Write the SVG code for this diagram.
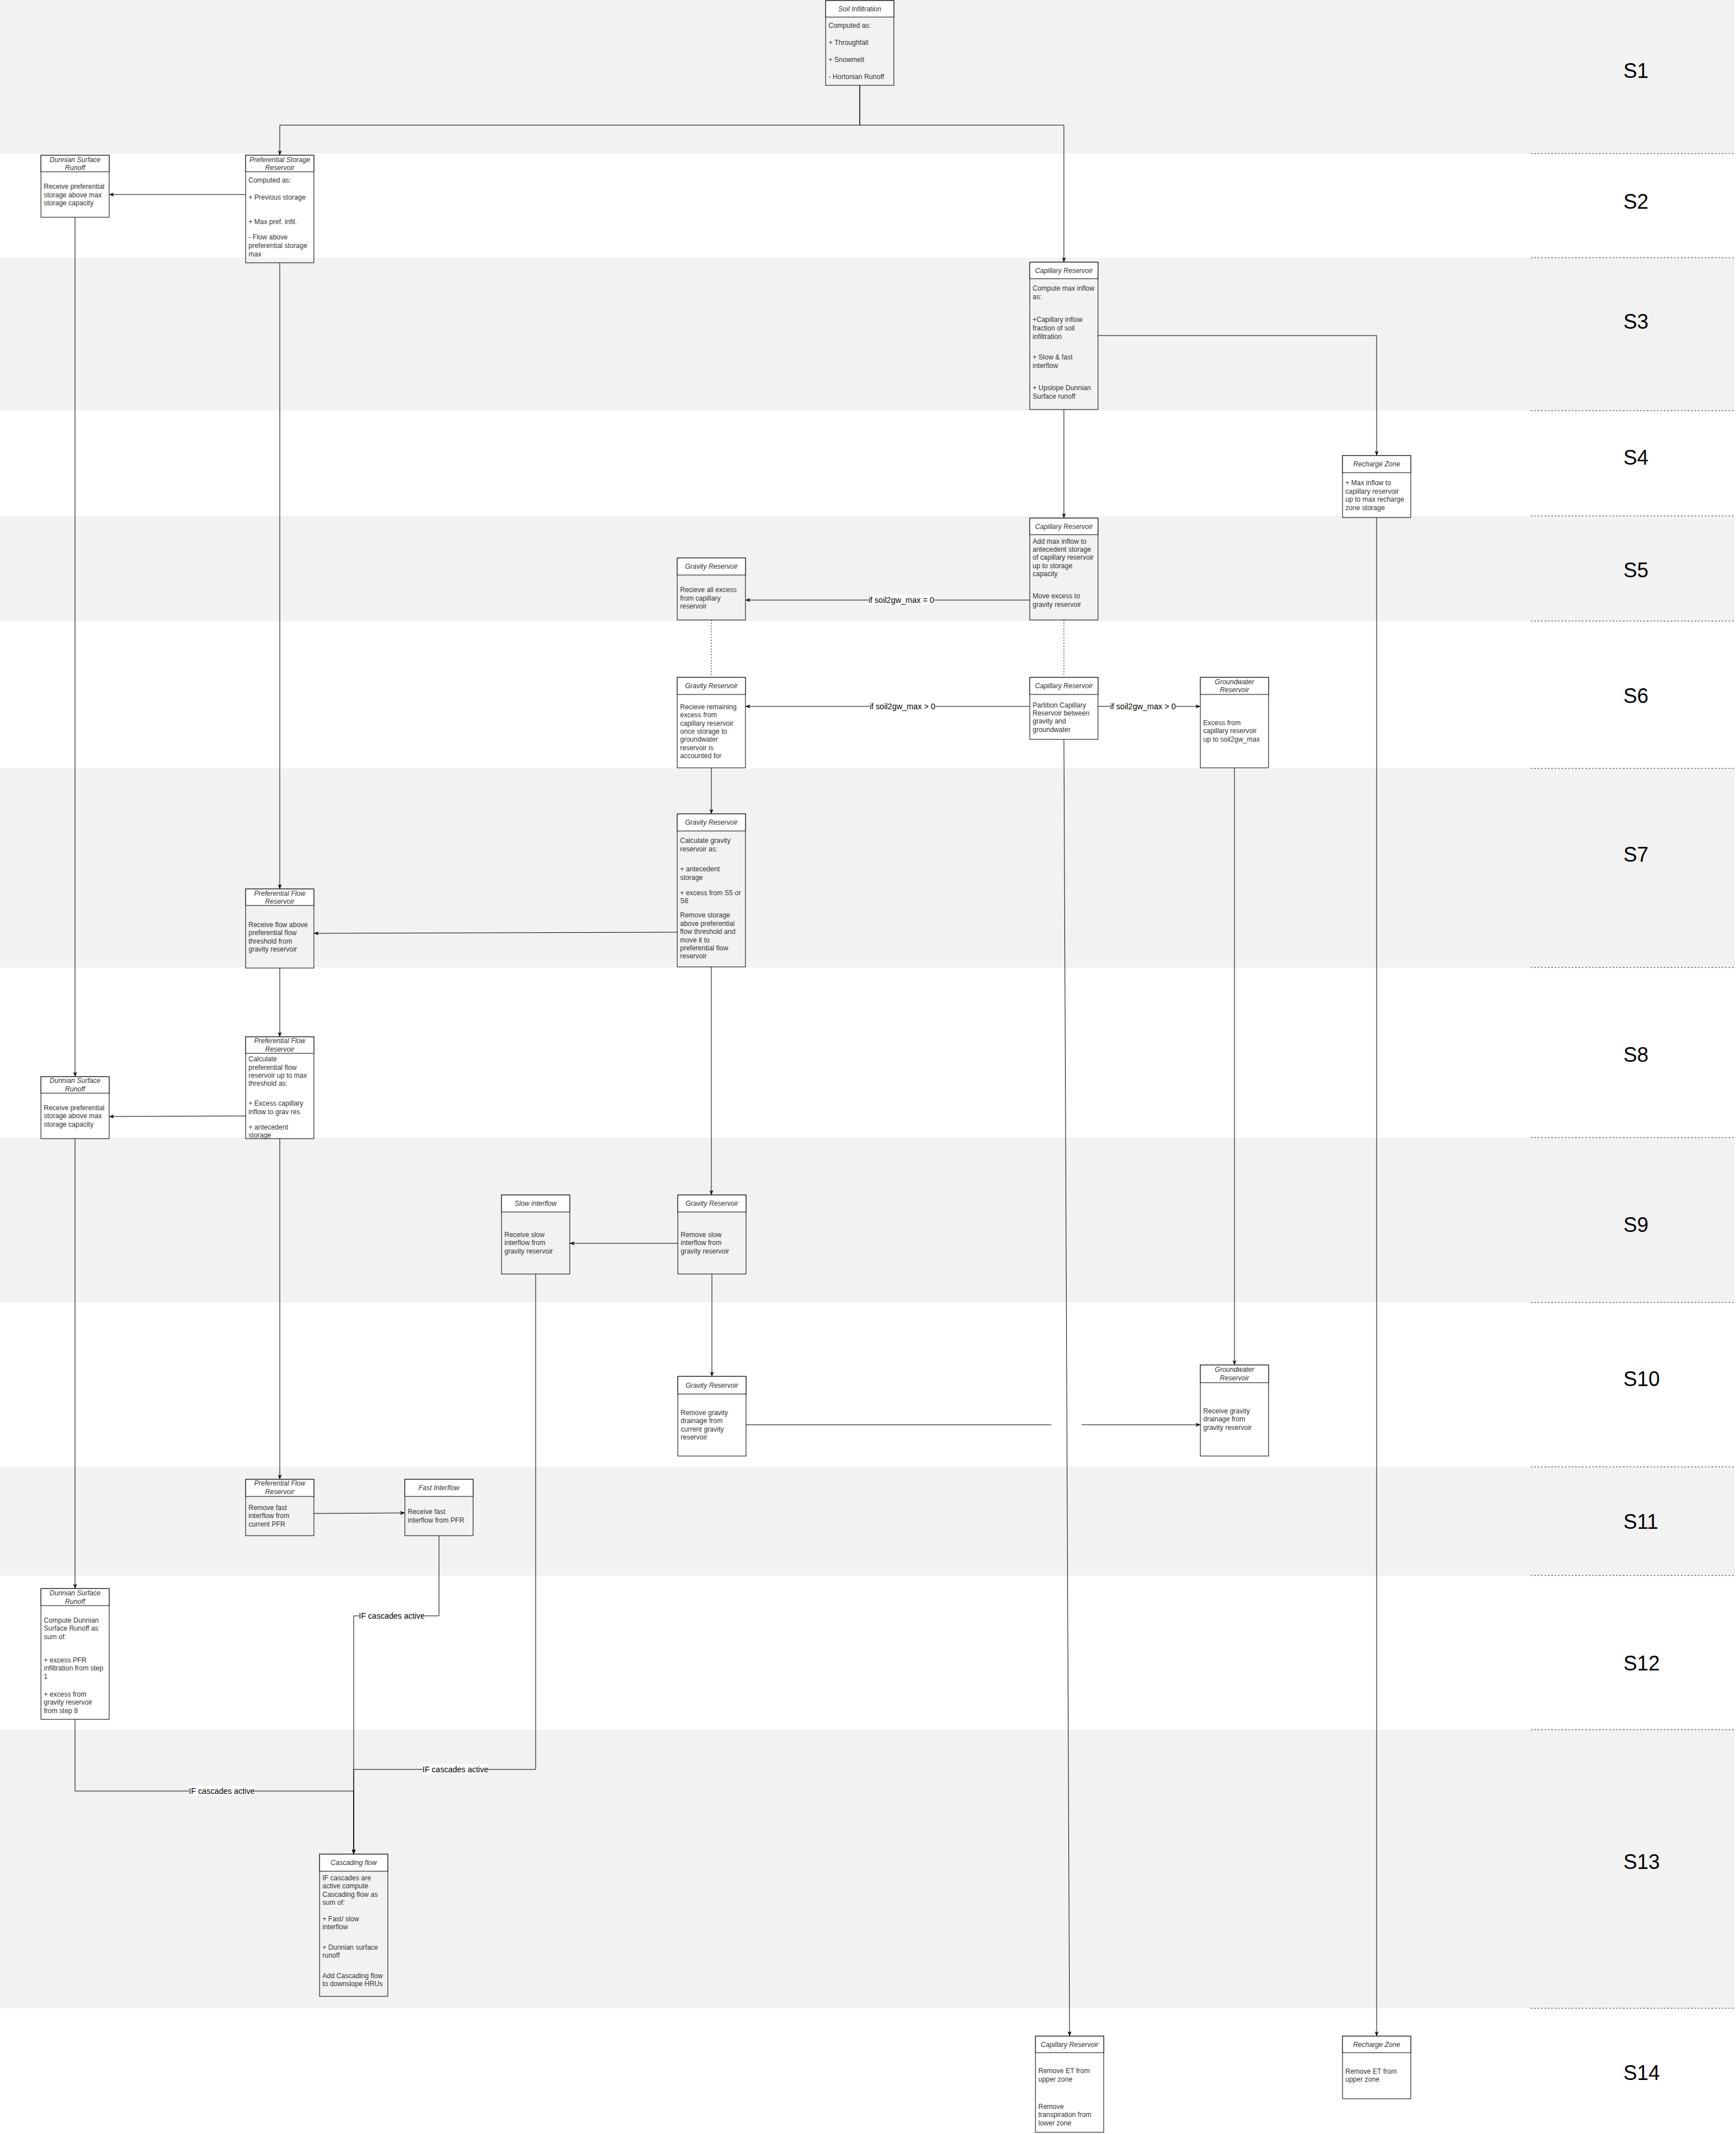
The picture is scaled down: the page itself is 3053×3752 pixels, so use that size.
<svg xmlns="http://www.w3.org/2000/svg" width="3053" height="3752" viewBox="0 0 3053 3752">
<style>
.bg{fill:#ffffff}
.lane{fill:#f2f2f2}
.sep{stroke:#333;stroke-dasharray:3 3;fill:none}
.box{fill:none;stroke:#000;stroke-width:1}
.hdr{fill:#fff;stroke:#000;stroke-width:1}
.ht{font-family:"Liberation Sans",Arial,sans-serif;font-size:12px;font-style:italic;fill:#333;text-anchor:middle}
.bt{font-family:"Liberation Sans",Arial,sans-serif;font-size:12px;fill:#333}
.edge{fill:none;stroke:#000;stroke-width:1}
.dot{fill:none;stroke:#000;stroke-width:1;stroke-dasharray:2 3}
.lb{fill:#fff}
.lt{font-family:"Liberation Sans",Arial,sans-serif;font-size:14px;fill:#000;text-anchor:middle}
.st{font-family:"Liberation Sans",Arial,sans-serif;font-size:36px;fill:#000}
</style>
<defs>
<marker id="arr" viewBox="0 0 10 8" refX="10" refY="4" markerWidth="9" markerHeight="7" orient="auto" markerUnits="userSpaceOnUse">
<path d="M0,0 L10,4 L0,8 L3,4 z" fill="#000"/>
</marker>
</defs>
<rect class="bg" x="0" y="0" width="3053" height="3752"/>
<g id="lanes">
<rect class="lane" x="0" y="0" width="3051" height="270"/>
<rect class="lane" x="0" y="453" width="3051" height="269"/>
<rect class="lane" x="0" y="907" width="3051" height="185"/>
<rect class="lane" x="0" y="1351" width="3051" height="350"/>
<rect class="lane" x="0" y="2000" width="3051" height="290"/>
<rect class="lane" x="0" y="2579" width="3051" height="191"/>
<rect class="lane" x="0" y="3041" width="3051" height="490"/>
<path class="sep" d="M2692 270H3050M2692 453H3050M2692 722H3050M2692 907H3050M2692 1092H3050M2692 1351H3050M2692 1701H3050M2692 2000H3050M2692 2290H3050M2692 2579H3050M2692 2770H3050M2692 3041H3050M2692 3531H3050"/>
<text class="st" x="2855" y="137">S1</text>
<text class="st" x="2855" y="367">S2</text>
<text class="st" x="2855" y="578">S3</text>
<text class="st" x="2855" y="817">S4</text>
<text class="st" x="2855" y="1015">S5</text>
<text class="st" x="2855" y="1236">S6</text>
<text class="st" x="2855" y="1515">S7</text>
<text class="st" x="2855" y="1867">S8</text>
<text class="st" x="2855" y="2166">S9</text>
<text class="st" x="2855" y="2437">S10</text>
<text class="st" x="2855" y="2688">S11</text>
<text class="st" x="2855" y="2937">S12</text>
<text class="st" x="2855" y="3286">S13</text>
<text class="st" x="2855" y="3657">S14</text>
</g>
<g id="connectors">
<path class="edge" d="M1512 150V220H492V273" marker-end="url(#arr)"/>
<path class="edge" d="M1512 150V220H1871V461" marker-end="url(#arr)"/>
<path class="edge" d="M432 342H192" marker-end="url(#arr)"/>
<path class="edge" d="M492 462V1563" marker-end="url(#arr)"/>
<path class="edge" d="M132 382V1893" marker-end="url(#arr)"/>
<path class="edge" d="M1871 720V911" marker-end="url(#arr)"/>
<path class="edge" d="M1931 590H2421V801" marker-end="url(#arr)"/>
<path class="edge" d="M1811 1055H1311" marker-end="url(#arr)"/>
<path class="dot" d="M1251 1090V1191"/>
<path class="dot" d="M1871 1090V1191"/>
<path class="edge" d="M1811 1242H1311" marker-end="url(#arr)"/>
<path class="edge" d="M1931 1242H2111" marker-end="url(#arr)"/>
<path class="edge" d="M1251 1350V1431" marker-end="url(#arr)"/>
<path class="edge" d="M1191 1639L552 1641" marker-end="url(#arr)"/>
<path class="edge" d="M492 1702V1823" marker-end="url(#arr)"/>
<path class="edge" d="M432 1962L192 1963" marker-end="url(#arr)"/>
<path class="edge" d="M1251 1700V2101" marker-end="url(#arr)"/>
<path class="edge" d="M1192 2186H1002" marker-end="url(#arr)"/>
<path class="edge" d="M1252 2240V2420" marker-end="url(#arr)"/>
<path class="edge" d="M2171 1350V2400" marker-end="url(#arr)"/>
<path class="edge" d="M1312 2505H1849M1902 2505H2111" marker-end="url(#arr)"/>
<path class="edge" d="M1871 1300L1881 3580" marker-end="url(#arr)"/>
<path class="edge" d="M2421 910V3580" marker-end="url(#arr)"/>
<path class="edge" d="M492 2002V2601" marker-end="url(#arr)"/>
<path class="edge" d="M132 2002V2793" marker-end="url(#arr)"/>
<path class="edge" d="M552 2661L712 2660" marker-end="url(#arr)"/>
<path class="edge" d="M772 2700V2841H622V3260" marker-end="url(#arr)"/>
<path class="edge" d="M942 2240V3111H622V3260" marker-end="url(#arr)"/>
<path class="edge" d="M132 3023V3149H622V3260" marker-end="url(#arr)"/>
<rect class="lb" x="1527" y="1046" width="116" height="17"/>
<text class="lt" x="1585" y="1060">if soil2gw_max = 0</text>
<rect class="lb" x="1529" y="1233" width="116" height="17"/>
<text class="lt" x="1587" y="1247">if soil2gw_max &gt; 0</text>
<rect class="lb" x="1952" y="1233" width="116" height="17"/>
<text class="lt" x="2010" y="1247">if soil2gw_max &gt; 0</text>
<rect class="lb" x="631" y="2832" width="116" height="17"/>
<text class="lt" x="689" y="2846">IF cascades active</text>
<rect class="lb" x="743" y="3102" width="116" height="17"/>
<text class="lt" x="801" y="3116">IF cascades active</text>
<rect class="lb" x="332" y="3140" width="116" height="17"/>
<text class="lt" x="390" y="3154">IF cascades active</text>
</g>
<g id="soil_infiltration">
<rect class="box" x="1452" y="1" width="120" height="149"/>
<rect class="hdr" x="1452" y="1" width="120" height="29"/>
<text class="ht" x="1512" y="20">Soil Infiltration</text>
<text class="bt"><tspan x="1457" y="49">Computed as:</tspan><tspan x="1457" y="79">+ Throughfall</tspan><tspan x="1457" y="109">+ Snowmelt</tspan><tspan x="1457" y="139">- Hortonian Runoff</tspan></text>
</g>
<g id="dunnian_s2">
<rect class="box" x="72" y="273" width="120" height="109"/>
<rect class="hdr" x="72" y="273" width="120" height="29"/>
<text class="ht"><tspan x="132" y="284.5">Dunnian Surface</tspan><tspan x="132" y="299">Runoff</tspan></text>
<text class="bt"><tspan x="77" y="332">Receive preferential</tspan><tspan x="77" y="346.5">storage above max</tspan><tspan x="77" y="361">storage capacity</tspan></text>
</g>
<g id="pref_storage_s2">
<rect class="box" x="432" y="273" width="120" height="189"/>
<rect class="hdr" x="432" y="273" width="120" height="29"/>
<text class="ht"><tspan x="492" y="284.5">Preferential Storage</tspan><tspan x="492" y="299">Reservoir</tspan></text>
<text class="bt"><tspan x="437" y="321">Computed as:</tspan><tspan x="437" y="351">+ Previous storage</tspan><tspan x="437" y="394">+ Max pref. infil.</tspan><tspan x="437" y="421">- Flow above</tspan><tspan x="437" y="436">preferential storage</tspan><tspan x="437" y="451">max</tspan></text>
</g>
<g id="capillary_s3">
<rect class="box" x="1811" y="461" width="120" height="259"/>
<rect class="hdr" x="1811" y="461" width="120" height="29"/>
<text class="ht" x="1871" y="479.5">Capillary Reservoir</text>
<text class="bt"><tspan x="1816" y="510.7">Compute max inflow</tspan><tspan x="1816" y="525.7">as:</tspan><tspan x="1816" y="565.7">+Capillary inflow</tspan><tspan x="1816" y="580.7">fraction of soil</tspan><tspan x="1816" y="595.7">infiltration</tspan><tspan x="1816" y="632.3">+ Slow &amp; fast</tspan><tspan x="1816" y="647.3">interflow</tspan><tspan x="1816" y="685.7">+ Upslope Dunnian</tspan><tspan x="1816" y="700.7">Surface runoff</tspan></text>
</g>
<g id="recharge_s4">
<rect class="box" x="2361" y="801" width="120" height="109"/>
<rect class="hdr" x="2361" y="801" width="120" height="30"/>
<text class="ht" x="2421" y="820">Recharge Zone</text>
<text class="bt"><tspan x="2366" y="853">+ Max inflow to</tspan><tspan x="2366" y="867.5">capillary reservoir</tspan><tspan x="2366" y="882">up to max recharge</tspan><tspan x="2366" y="896.5">zone storage</tspan></text>
</g>
<g id="gravity_s5">
<rect class="box" x="1191" y="981" width="120" height="109"/>
<rect class="hdr" x="1191" y="981" width="120" height="30"/>
<text class="ht" x="1251" y="1000">Gravity Reservoir</text>
<text class="bt"><tspan x="1196" y="1041">Recieve all excess</tspan><tspan x="1196" y="1055.5">from capillary</tspan><tspan x="1196" y="1070">reservoir</tspan></text>
</g>
<g id="capillary_s5">
<rect class="box" x="1811" y="911" width="120" height="179"/>
<rect class="hdr" x="1811" y="911" width="120" height="29"/>
<text class="ht" x="1871" y="929.5">Capillary Reservoir</text>
<text class="bt"><tspan x="1816" y="955.7">Add max inflow to</tspan><tspan x="1816" y="969.7">antecedent storage</tspan><tspan x="1816" y="984.3">of capillary reservoir</tspan><tspan x="1816" y="999">up to storage</tspan><tspan x="1816" y="1013">capacity</tspan><tspan x="1816" y="1051.7">Move excess to</tspan><tspan x="1816" y="1067.3">gravity reservoir</tspan></text>
</g>
<g id="gravity_s6">
<rect class="box" x="1191" y="1191" width="120" height="159"/>
<rect class="hdr" x="1191" y="1191" width="120" height="30"/>
<text class="ht" x="1251" y="1210">Gravity Reservoir</text>
<text class="bt"><tspan x="1196" y="1246.7">Recieve remaining</tspan><tspan x="1196" y="1261.3">excess from</tspan><tspan x="1196" y="1275.7">capillary reservoir</tspan><tspan x="1196" y="1290">once storage to</tspan><tspan x="1196" y="1304.4">groundwater</tspan><tspan x="1196" y="1318.8">reservoir is</tspan><tspan x="1196" y="1333.3">accounted for</tspan></text>
</g>
<g id="capillary_s6">
<rect class="box" x="1811" y="1191" width="120" height="109"/>
<rect class="hdr" x="1811" y="1191" width="120" height="30"/>
<text class="ht" x="1871" y="1210">Capillary Reservoir</text>
<text class="bt"><tspan x="1816" y="1243.5">Partition Capillary</tspan><tspan x="1816" y="1258">Reservoir between</tspan><tspan x="1816" y="1272.4">gravity and</tspan><tspan x="1816" y="1286.8">groundwater</tspan></text>
</g>
<g id="groundwater_s6">
<rect class="box" x="2111" y="1191" width="120" height="159"/>
<rect class="hdr" x="2111" y="1191" width="120" height="30"/>
<text class="ht"><tspan x="2171" y="1202.8">Groundwater</tspan><tspan x="2171" y="1217.2">Reservoir</tspan></text>
<text class="bt"><tspan x="2116" y="1274.7">Excess from</tspan><tspan x="2116" y="1289.2">capillary reservoir</tspan><tspan x="2116" y="1303.6">up to soil2gw_max</tspan></text>
</g>
<g id="gravity_s7">
<rect class="box" x="1191" y="1431" width="120" height="269"/>
<rect class="hdr" x="1191" y="1431" width="120" height="30"/>
<text class="ht" x="1251" y="1450">Gravity Reservoir</text>
<text class="bt"><tspan x="1196" y="1482.3">Calculate gravity</tspan><tspan x="1196" y="1496.7">reservoir as:</tspan><tspan x="1196" y="1532.3">+ antecedent</tspan><tspan x="1196" y="1547.3">storage</tspan><tspan x="1196" y="1574">+ excess from S5 or</tspan><tspan x="1196" y="1588">S6</tspan><tspan x="1196" y="1613.3">Remove storage</tspan><tspan x="1196" y="1627.5">above preferential</tspan><tspan x="1196" y="1642">flow threshold and</tspan><tspan x="1196" y="1656.5">move it to</tspan><tspan x="1196" y="1670.8">preferential flow</tspan><tspan x="1196" y="1685">reservoir</tspan></text>
</g>
<g id="pref_flow_s7">
<rect class="box" x="432" y="1563" width="120" height="139"/>
<rect class="hdr" x="432" y="1563" width="120" height="29"/>
<text class="ht"><tspan x="492" y="1574.5">Preferential Flow</tspan><tspan x="492" y="1589">Reservoir</tspan></text>
<text class="bt"><tspan x="437" y="1630">Receive flow above</tspan><tspan x="437" y="1644.4">preferential flow</tspan><tspan x="437" y="1658.8">threshold from</tspan><tspan x="437" y="1673.2">gravity reservoir</tspan></text>
</g>
<g id="dunnian_s8">
<rect class="box" x="72" y="1893" width="120" height="109"/>
<rect class="hdr" x="72" y="1893" width="120" height="29"/>
<text class="ht"><tspan x="132" y="1904">Dunnian Surface</tspan><tspan x="132" y="1918.5">Runoff</tspan></text>
<text class="bt"><tspan x="77" y="1951.7">Receive preferential</tspan><tspan x="77" y="1966.2">storage above max</tspan><tspan x="77" y="1980.7">storage capacity</tspan></text>
</g>
<g id="pref_flow_s8">
<rect class="box" x="432" y="1823" width="120" height="179"/>
<rect class="hdr" x="432" y="1823" width="120" height="29"/>
<text class="ht"><tspan x="492" y="1834">Preferential Flow</tspan><tspan x="492" y="1848.5">Reservoir</tspan></text>
<text class="bt"><tspan x="437" y="1866.3">Calculate</tspan><tspan x="437" y="1880.5">preferential flow</tspan><tspan x="437" y="1895">reservoir up to max</tspan><tspan x="437" y="1909.3">threshold as:</tspan><tspan x="437" y="1944">+ Excess capillary</tspan><tspan x="437" y="1958.7">inflow to grav res</tspan><tspan x="437" y="1985.7">+ antecedent</tspan><tspan x="437" y="2000">storage</tspan></text>
</g>
<g id="slow_interflow_s9">
<rect class="box" x="882" y="2101" width="120" height="139"/>
<rect class="hdr" x="882" y="2101" width="120" height="30"/>
<text class="ht" x="942" y="2120">Slow interflow</text>
<text class="bt"><tspan x="887" y="2175">Receive slow</tspan><tspan x="887" y="2189.4">interflow from</tspan><tspan x="887" y="2203.8">gravity reservoir</tspan></text>
</g>
<g id="gravity_s9">
<rect class="box" x="1192" y="2101" width="120" height="139"/>
<rect class="hdr" x="1192" y="2101" width="120" height="30"/>
<text class="ht" x="1252" y="2120">Gravity Reservoir</text>
<text class="bt"><tspan x="1197" y="2175">Remove slow</tspan><tspan x="1197" y="2189.4">interflow from</tspan><tspan x="1197" y="2203.8">gravity reservoir</tspan></text>
</g>
<g id="gravity_s10">
<rect class="box" x="1192" y="2420" width="120" height="140"/>
<rect class="hdr" x="1192" y="2420" width="120" height="31"/>
<text class="ht" x="1252" y="2440">Gravity Reservoir</text>
<text class="bt"><tspan x="1197" y="2488">Remove gravity</tspan><tspan x="1197" y="2502.4">drainage from</tspan><tspan x="1197" y="2516.8">current gravity</tspan><tspan x="1197" y="2531.2">reservoir</tspan></text>
</g>
<g id="groundwater_s10">
<rect class="box" x="2111" y="2400" width="120" height="160"/>
<rect class="hdr" x="2111" y="2400" width="120" height="31"/>
<text class="ht"><tspan x="2171" y="2412.3">Groundwater</tspan><tspan x="2171" y="2427">Reservoir</tspan></text>
<text class="bt"><tspan x="2116" y="2485">Receive gravity</tspan><tspan x="2116" y="2499.4">drainage from</tspan><tspan x="2116" y="2513.8">gravity reservoir</tspan></text>
</g>
<g id="pref_flow_s11">
<rect class="box" x="432" y="2601" width="120" height="99"/>
<rect class="hdr" x="432" y="2601" width="120" height="30"/>
<text class="ht"><tspan x="492" y="2612">Preferential Flow</tspan><tspan x="492" y="2626.5">Reservoir</tspan></text>
<text class="bt"><tspan x="437" y="2655">Remove fast</tspan><tspan x="437" y="2669.4">interflow from</tspan><tspan x="437" y="2683.8">current PFR</tspan></text>
</g>
<g id="fast_interflow_s11">
<rect class="box" x="712" y="2601" width="120" height="99"/>
<rect class="hdr" x="712" y="2601" width="120" height="30"/>
<text class="ht" x="772" y="2620">Fast Interflow</text>
<text class="bt"><tspan x="717" y="2662.3">Receive fast</tspan><tspan x="717" y="2676.7">interflow from PFR</tspan></text>
</g>
<g id="dunnian_s12">
<rect class="box" x="72" y="2793" width="120" height="230"/>
<rect class="hdr" x="72" y="2793" width="120" height="30"/>
<text class="ht"><tspan x="132" y="2805">Dunnian Surface</tspan><tspan x="132" y="2819.5">Runoff</tspan></text>
<text class="bt"><tspan x="77" y="2853">Compute Dunnian</tspan><tspan x="77" y="2867.3">Surface Runoff as</tspan><tspan x="77" y="2881.6">sum of:</tspan><tspan x="77" y="2923">+ excess PFR</tspan><tspan x="77" y="2937.3">infiltration from step</tspan><tspan x="77" y="2951.7">1</tspan><tspan x="77" y="2983">+ excess from</tspan><tspan x="77" y="2997.3">gravity reservoir</tspan><tspan x="77" y="3011.7">from step 8</tspan></text>
</g>
<g id="cascading_flow_s13">
<rect class="box" x="562" y="3260" width="120" height="250"/>
<rect class="hdr" x="562" y="3260" width="120" height="30"/>
<text class="ht" x="622" y="3279">Cascading flow</text>
<text class="bt"><tspan x="567" y="3306">IF cascades are</tspan><tspan x="567" y="3320.4">active compute</tspan><tspan x="567" y="3334.8">Cascading flow as</tspan><tspan x="567" y="3349.2">sum of:</tspan><tspan x="567" y="3378">+ Fast/ slow</tspan><tspan x="567" y="3392.4">interflow</tspan><tspan x="567" y="3428">+ Dunnian surface</tspan><tspan x="567" y="3442.4">runoff</tspan><tspan x="567" y="3478">Add Cascading flow</tspan><tspan x="567" y="3492.4">to downslope HRUs</tspan></text>
</g>
<g id="capillary_s14">
<rect class="box" x="1821" y="3580" width="120" height="169"/>
<rect class="hdr" x="1821" y="3580" width="120" height="29"/>
<text class="ht" x="1881" y="3598.5">Capillary Reservoir</text>
<text class="bt"><tspan x="1826" y="3645">Remove ET from</tspan><tspan x="1826" y="3659.5">upper zone</tspan><tspan x="1826" y="3708">Remove</tspan><tspan x="1826" y="3722.4">transpiration from</tspan><tspan x="1826" y="3736.8">lower zone</tspan></text>
</g>
<g id="recharge_s14">
<rect class="box" x="2361" y="3580" width="120" height="110"/>
<rect class="hdr" x="2361" y="3580" width="120" height="29"/>
<text class="ht" x="2421" y="3598.5">Recharge Zone</text>
<text class="bt"><tspan x="2366" y="3645.5">Remove ET from</tspan><tspan x="2366" y="3660">upper zone</tspan></text>
</g>
</svg>
